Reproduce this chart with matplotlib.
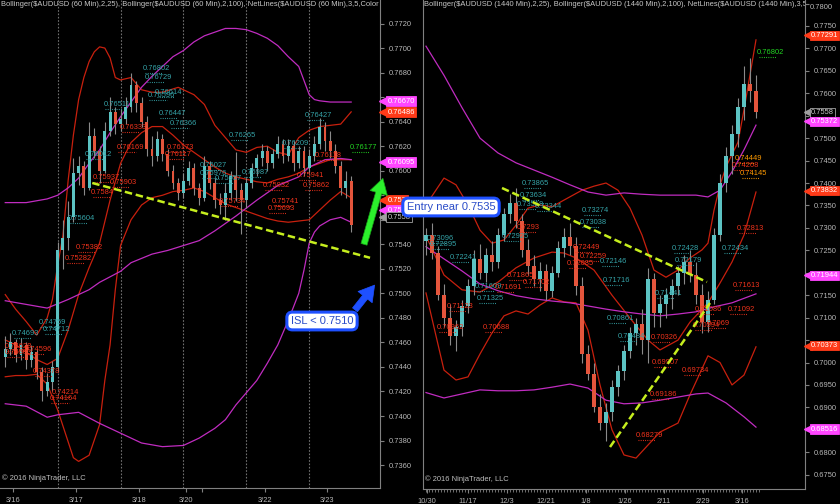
import numpy as np
import matplotlib
matplotlib.use("Agg")
import matplotlib.pyplot as plt
from matplotlib.transforms import offset_copy

plt.rcParams['font.family'] = ['Liberation Sans', 'DejaVu Sans']

# ---------------- AUDUSD 60 min (drawn as 2-hour candles) ----------------
l_open = [0.7448, 0.7455, 0.7460, 0.7450, 0.7458, 0.7446, 0.7452, 0.7436, 0.7420, 0.7428,
          0.7440, 0.7535, 0.7545, 0.7562, 0.7598, 0.7604, 0.7586, 0.7628, 0.7616, 0.7600,
          0.7632, 0.7648, 0.7638, 0.7642, 0.7652, 0.7670, 0.7655, 0.7640, 0.7618, 0.7612,
          0.7626, 0.7614, 0.7600, 0.7590, 0.7582, 0.7592, 0.7602, 0.7586, 0.7578, 0.7604,
          0.7590, 0.7576, 0.7572, 0.7582, 0.7596, 0.7584, 0.7576, 0.7590, 0.7602, 0.7610,
          0.7616, 0.7606, 0.7614, 0.7622, 0.7612, 0.7620, 0.7606, 0.7616, 0.7602, 0.7612,
          0.7622, 0.7636, 0.7624, 0.7616, 0.7604, 0.7586, 0.7592]
l_high = [0.7465, 0.7468, 0.7463, 0.7464, 0.7460, 0.7458, 0.7455, 0.7440, 0.7435, 0.7445,
          0.7542, 0.7560, 0.7575, 0.7610, 0.7612, 0.7608, 0.7640, 0.7635, 0.7620, 0.7640,
          0.7660, 0.7652, 0.7650, 0.7660, 0.7680, 0.7673, 0.7660, 0.7645, 0.7628, 0.7632,
          0.7630, 0.7618, 0.7605, 0.7594, 0.7598, 0.7608, 0.7606, 0.7590, 0.7612, 0.7608,
          0.7594, 0.7582, 0.7590, 0.7600, 0.7615, 0.7590, 0.7594, 0.7606, 0.7614, 0.7622,
          0.7620, 0.7618, 0.7628, 0.7626, 0.7626, 0.7624, 0.7620, 0.7620, 0.7618, 0.7628,
          0.7643, 0.7640, 0.7632, 0.7622, 0.7608, 0.7600, 0.7596]
l_low = [0.7440, 0.7450, 0.7444, 0.7446, 0.7438, 0.7440, 0.7430, 0.7412, 0.7416, 0.7420,
         0.7436, 0.7520, 0.7535, 0.7558, 0.7588, 0.7580, 0.7584, 0.7610, 0.7590, 0.7598,
         0.7628, 0.7630, 0.7632, 0.7638, 0.7648, 0.7648, 0.7636, 0.7612, 0.7604, 0.7608,
         0.7608, 0.7596, 0.7585, 0.7576, 0.7578, 0.7588, 0.7580, 0.7572, 0.7575, 0.7585,
         0.7570, 0.7565, 0.7560, 0.7576, 0.7575, 0.7548, 0.7570, 0.7586, 0.7596, 0.7604,
         0.7600, 0.7602, 0.7610, 0.7606, 0.7608, 0.7600, 0.7602, 0.7596, 0.7598, 0.7608,
         0.7618, 0.7616, 0.7610, 0.7598, 0.7580, 0.7578, 0.7550]
l_close = [0.7455, 0.7460, 0.7450, 0.7458, 0.7446, 0.7452, 0.7436, 0.7420, 0.7428, 0.7440,
           0.7535, 0.7545, 0.7562, 0.7598, 0.7604, 0.7586, 0.7628, 0.7616, 0.7600, 0.7632,
           0.7648, 0.7638, 0.7642, 0.7652, 0.7670, 0.7655, 0.7640, 0.7618, 0.7612, 0.7626,
           0.7614, 0.7600, 0.7590, 0.7582, 0.7592, 0.7602, 0.7586, 0.7578, 0.7604, 0.7590,
           0.7576, 0.7572, 0.7582, 0.7596, 0.7584, 0.7576, 0.7590, 0.7602, 0.7610, 0.7616,
           0.7606, 0.7614, 0.7622, 0.7612, 0.7620, 0.7606, 0.7616, 0.7602, 0.7612, 0.7622,
           0.7636, 0.7624, 0.7616, 0.7604, 0.7586, 0.7592, 0.7556]

# Bollinger(25) red lines, sampled at bar positions
l_bb25_up_x = [0, 2, 4, 6, 8, 9, 10, 11, 12, 13, 14, 15, 16, 17, 18, 19, 20, 21, 22, 24, 26, 28, 30,
               33, 36, 38, 40, 42, 44, 46, 48, 50, 52, 54, 56, 58, 60, 62, 64, 66]
l_bb25_up = [0.7499, 0.7487, 0.7477, 0.7466, 0.7480, 0.7495, 0.7523, 0.7547, 0.7592, 0.7629,
             0.7658, 0.7676, 0.7689, 0.7697, 0.7701, 0.7700, 0.7692, 0.7676, 0.7674, 0.7676,
             0.7666, 0.7664, 0.7664, 0.7668, 0.7662, 0.7654, 0.7637, 0.7627, 0.7617, 0.7615,
             0.7619, 0.7620, 0.7615, 0.7613, 0.7627, 0.7633, 0.7636, 0.7637, 0.7638, 0.7648]
l_bb25_mid_x = list(range(0, 67, 2))
l_bb25_mid = [0.7462, 0.7458, 0.7452, 0.7446, 0.7442, 0.7447, 0.7470, 0.7499, 0.7521, 0.7541,
              0.7576, 0.7606, 0.7623, 0.7631, 0.7636, 0.7636, 0.7629, 0.7621, 0.7615, 0.7609,
              0.7603, 0.7598, 0.7595, 0.7593, 0.7591, 0.7590, 0.7593, 0.7595, 0.7598, 0.7603,
              0.7606, 0.7609, 0.7609, 0.7609]
l_bb25_lo_x = [0, 2, 4, 6, 8, 10, 12, 13, 14, 16, 18, 19, 20, 21, 22, 24, 26, 28, 30, 32, 34, 36,
               38, 40, 42, 44, 46, 48, 50, 52, 54, 56, 58, 60, 62, 64, 66]
l_bb25_lo = [0.7432, 0.7433, 0.7433, 0.7434, 0.7426, 0.7405, 0.7379, 0.7366, 0.7363, 0.7368,
             0.7393, 0.7429, 0.7458, 0.7503, 0.7539, 0.7560, 0.7572, 0.7578, 0.7580, 0.7583,
             0.7584, 0.7586, 0.7583, 0.7578, 0.7573, 0.7570, 0.7567, 0.7564, 0.7561, 0.7559,
             0.7558, 0.7559, 0.7560, 0.7568, 0.7576, 0.7583, 0.7578]
# Bollinger(100) magenta lines
l_bb100_up_x = [0, 4, 8, 10, 12, 14, 16, 18, 20, 22, 24, 26, 28, 30, 32, 34, 36, 38, 40, 42, 44,
                46, 48, 50, 52, 54, 56, 58, 59, 60, 62, 64, 66]
l_bb100_up = [0.7574, 0.7574, 0.7577, 0.7580, 0.7586, 0.7594, 0.7606, 0.7617, 0.7631, 0.7644,
              0.7656, 0.7668, 0.7677, 0.7685, 0.7693, 0.7698, 0.7705, 0.7710, 0.7713, 0.7716,
              0.7716, 0.7715, 0.7712, 0.7708, 0.7702, 0.7693, 0.7685, 0.7662, 0.7658, 0.7657,
              0.7656, 0.7656, 0.7656]
l_bb100_mid_x = [0, 4, 8, 12, 16, 18, 22, 24, 28, 31, 34, 37, 40, 44, 48, 52, 56, 58, 61, 64, 66]
l_bb100_mid = [0.7494, 0.7491, 0.7488, 0.7495, 0.7503, 0.7509, 0.7518, 0.7525, 0.7532, 0.7535,
               0.7539, 0.7543, 0.7551, 0.7563, 0.7576, 0.7588, 0.7595, 0.7603, 0.7609, 0.7610,
               0.7609]
l_bb100_lo_x = [0, 4, 8, 10, 14, 18, 22, 26, 30, 34, 37, 40, 42, 44, 46, 48, 50, 52, 54, 56, 57,
                58, 59, 60, 62, 64, 66]
l_bb100_lo = [0.7410, 0.7408, 0.7399, 0.7401, 0.7403, 0.7394, 0.7386, 0.7378, 0.7375, 0.7376,
              0.7382, 0.7390, 0.7397, 0.7409, 0.7419, 0.7429, 0.7443, 0.7458, 0.7478, 0.7500,
              0.7519, 0.7541, 0.7550, 0.7555, 0.7560, 0.7562, 0.7558]

l_trend_x = [16.6, 69.6]
l_trend_y = [0.7590, 0.7529]
l_sessions = [10, 22, 34, 46, 58]
l_tick_pos = [1.5, 13.5, 25.5, 34.5, 37.5, 49.6, 61.4]
l_tick_lbl = ['3/16', '3/17', '3/18', '3/20', '', '3/22', '3/23']

l_lbl_x = [26.3, 26.7, 28.6, 27.2, 18.7, 29.2, 31.4, 21.9, 21.3, 30.9, 30.5, 15.2, 16.7, 20.0,
           16.4, 12.0, 13.5, 11.4, 6.3, 7.2, 1.3, 0.0, 0.0, 3.8, 5.3, 8.9, 8.5, 42.7, 57.2,
           52.8, 37.2, 37.2, 40.0, 45.2, 55.7, 56.8, 49.2, 40.8, 50.9, 50.0, 59.1, 65.8]
l_lbl_y = [0.76836, 0.76763, 0.76641, 0.76617, 0.76536, 0.76470, 0.76388, 0.76356, 0.76193,
           0.76193, 0.76136, 0.76136, 0.75948, 0.75908, 0.75826, 0.75614, 0.75378, 0.75281,
           0.74759, 0.74702, 0.74670, 0.74564, 0.74515, 0.74539, 0.74360, 0.74189, 0.74140,
           0.76290, 0.76453, 0.76225, 0.76046, 0.75981, 0.75940, 0.75989, 0.75957, 0.75883,
           0.75883, 0.75745, 0.75753, 0.75696, 0.76128, 0.76193]
l_lbl_txt = ['0.76802', '0.76729', '0.76614', '0.76596', '0.76511', '0.76447', '0.76366',
             '0.76333', '0.76169', '0.76173', '0.76117', '0.76012', '0.75937', '0.75903',
             '0.7584', '0.75604', '0.75382', '0.75282', '0.74759', '0.74712', '0.74693',
             '0.74628', '0.74583', '0.74596', '0.74378', '0.74214', '0.74164', '0.76265',
             '0.76427', '0.76209', '0.76027', '0.75976', '0.75957', '0.75987', '0.75941',
             '0.75862', '0.75832', '0.75734', '0.75741', '0.75693', '0.76118', '0.76177']
l_lbl_kind = ['t', 't', 't', 't', 't', 't', 't', 'r', 'r', 'r', 'r', 't', 'r', 'r', 'r', 't',
              'r', 'r', 't', 't', 't', 'r', 'r', 'r', 'r', 'r', 'r', 't', 't', 't', 't', 't',
              't', 't', 'r', 'r', 'r', 'r', 'r', 'r', 'r', 'g']

l_tag_txt = ['0.76670', '0.76486', '0.76095', '0.757', '0.7558', '0.7558']
l_tag_y = [0.76568, 0.76478, 0.76071, 0.75761, 0.75679, 0.75622]
l_tag_kind = ['m', 'r', 'm', 'r', 'm', 'k']

# ---------------- AUDUSD daily (drawn as 2-day candles) ----------------
r_open = [0.7270, 0.7285, 0.7245, 0.7150, 0.7100, 0.7060, 0.7080, 0.7125, 0.7170, 0.7230,
          0.7200, 0.7240, 0.7225, 0.7285, 0.7330, 0.7355, 0.7315, 0.7250, 0.7215, 0.7185,
          0.7205, 0.7160, 0.7200, 0.7255, 0.7280, 0.7260, 0.7170, 0.7020, 0.6975, 0.6900,
          0.6865, 0.6890, 0.6945, 0.6980, 0.7025, 0.7065, 0.7085, 0.7050, 0.7185, 0.7110,
          0.7130, 0.7150, 0.7170, 0.7200, 0.7225, 0.7195, 0.7150, 0.7090, 0.7140, 0.7285,
          0.7400, 0.7460, 0.7510, 0.7570, 0.7620, 0.7605]
r_high = [0.7300, 0.7310, 0.7260, 0.7175, 0.7130, 0.7095, 0.7140, 0.7185, 0.7250, 0.7265,
          0.7255, 0.7270, 0.7300, 0.7345, 0.7375, 0.7390, 0.7330, 0.7275, 0.7240, 0.7225,
          0.7220, 0.7215, 0.7270, 0.7300, 0.7310, 0.7280, 0.7190, 0.7040, 0.7000, 0.6930,
          0.6910, 0.6960, 0.6995, 0.7040, 0.7080, 0.7100, 0.7120, 0.7210, 0.7200, 0.7150,
          0.7165, 0.7185, 0.7215, 0.7240, 0.7250, 0.7225, 0.7175, 0.7160, 0.7300, 0.7420,
          0.7480, 0.7530, 0.7590, 0.7660, 0.7678, 0.7640]
r_low = [0.7240, 0.7230, 0.7140, 0.7080, 0.7040, 0.7025, 0.7060, 0.7110, 0.7150, 0.7185,
         0.7180, 0.7205, 0.7210, 0.7270, 0.7310, 0.7300, 0.7235, 0.7195, 0.7170, 0.7160,
         0.7140, 0.7145, 0.7190, 0.7235, 0.7240, 0.7150, 0.7000, 0.6960, 0.6890, 0.6850,
         0.6825, 0.6870, 0.6925, 0.6960, 0.7010, 0.7040, 0.7020, 0.7000, 0.7080, 0.7080,
         0.7100, 0.7120, 0.7150, 0.7175, 0.7180, 0.7130, 0.7065, 0.7069, 0.7130, 0.7270,
         0.7380, 0.7420, 0.7480, 0.7540, 0.7580, 0.7545]
r_close = [0.7285, 0.7245, 0.7150, 0.7100, 0.7060, 0.7080, 0.7125, 0.7170, 0.7230, 0.7200,
           0.7240, 0.7225, 0.7285, 0.7330, 0.7355, 0.7315, 0.7250, 0.7215, 0.7185, 0.7205,
           0.7160, 0.7200, 0.7255, 0.7280, 0.7260, 0.7170, 0.7020, 0.6975, 0.6900, 0.6865,
           0.6890, 0.6945, 0.6980, 0.7025, 0.7065, 0.7085, 0.7050, 0.7185, 0.7110, 0.7130,
           0.7150, 0.7170, 0.7200, 0.7225, 0.7195, 0.7150, 0.7090, 0.7140, 0.7285, 0.7400,
           0.7460, 0.7510, 0.7570, 0.7620, 0.7605, 0.7558]

r_bb25_up_x = [0, 3, 5, 7, 9, 11, 13, 15, 17, 19, 21, 23, 26, 28, 30, 32, 34, 36, 38, 40, 42, 44,
               46, 47, 48, 49, 50, 52, 53, 54, 55]
r_bb25_up = [0.7351, 0.7411, 0.7396, 0.7351, 0.7295, 0.7266, 0.7273, 0.7306, 0.7344, 0.7351,
             0.7347, 0.7362, 0.7384, 0.7393, 0.7400, 0.7384, 0.7344, 0.7284, 0.7206, 0.7190,
             0.7206, 0.7233, 0.7251, 0.7266, 0.7339, 0.7395, 0.7436, 0.7491, 0.7563, 0.7641,
             0.7719]
r_bb25_mid_x = [0, 3, 6, 9, 12, 15, 18, 21, 23, 25, 28, 31, 34, 37, 39, 42, 44, 47, 49, 51, 53, 55]
r_bb25_mid = [0.7282, 0.7195, 0.7162, 0.7157, 0.7179, 0.7211, 0.7233, 0.7246, 0.7244, 0.7233,
              0.7206, 0.7150, 0.7099, 0.7050, 0.7028, 0.7050, 0.7090, 0.7133, 0.7177, 0.7224,
              0.7284, 0.7380]
r_bb25_lo_x = [0, 3, 5, 7, 9, 11, 13, 15, 17, 19, 21, 23, 25, 27, 29, 31, 33, 35, 37, 39, 42, 44,
               47, 49, 51, 53, 55]
r_bb25_lo = [0.7155, 0.6983, 0.6961, 0.6968, 0.7019, 0.7066, 0.7104, 0.7115, 0.7108, 0.7128,
             0.7144, 0.7135, 0.7133, 0.7072, 0.6950, 0.6850, 0.6794, 0.6787, 0.6816, 0.6845,
             0.6865, 0.6928, 0.7015, 0.7000, 0.6950, 0.6972, 0.7035]
r_bb100_up_x = [0, 3, 6, 9, 12, 15, 18, 21, 24, 27, 30, 33, 36, 39, 42, 45, 47, 49, 51, 53, 55]
r_bb100_up = [0.7705, 0.7640, 0.7568, 0.7500, 0.7467, 0.7445, 0.7429, 0.7413, 0.7396, 0.7380,
              0.7373, 0.7378, 0.7375, 0.7373, 0.7373, 0.7373, 0.7369, 0.7384, 0.7425, 0.7474,
              0.7529]
r_bb100_mid_x = [0, 3, 6, 9, 12, 15, 18, 21, 24, 27, 30, 33, 36, 39, 42, 45, 48, 51, 55]
r_bb100_mid = [0.7258, 0.7231, 0.7204, 0.7175, 0.7160, 0.7149, 0.7142, 0.7137, 0.7133, 0.7126,
               0.7119, 0.7113, 0.7108, 0.7104, 0.7108, 0.7113, 0.7124, 0.7133, 0.7153]
r_bb100_lo_x = [0, 3, 6, 9, 12, 15, 18, 21, 24, 27, 30, 33, 36, 39, 42, 45, 47, 50, 53, 55]
r_bb100_lo = [0.6933, 0.6921, 0.6930, 0.6939, 0.6937, 0.6937, 0.6939, 0.6945, 0.6952, 0.6943,
              0.6916, 0.6908, 0.6910, 0.6916, 0.6923, 0.6930, 0.6932, 0.6910, 0.6879, 0.6856]

r_trend1_x = [12.67, 46.83]
r_trend1_y = [0.73889, 0.71794]
r_trend2_x = [30.67, 47.33]
r_trend2_y = [0.68117, 0.71326]
r_tick_pos = [0.17, 7.0, 13.5, 20.0, 26.7, 33.2, 39.7, 46.2, 52.7]
r_tick_lbl = ['10/30', '11/17', '12/3', '12/21', '1/8', '1/26', '2/11', '2/29', '3/16']

r_lbl_x = [16.0, 15.7, 15.2, 18.2, 15.2, 12.7, 0.2, 0.7, 4.0, 8.2, 11.5, 8.5, 3.5, 1.8, 9.5,
           13.5, 16.2, 26.0, 25.7, 24.5, 25.7, 23.5, 29.0, 29.5, 30.2, 41.0, 41.5, 49.3, 38.2,
           51.8, 51.2, 50.3, 44.8, 46.8, 44.5, 32.0, 37.5, 37.7, 42.7, 37.3, 35.0, 51.5, 51.0,
           52.3, 55.2]
r_lbl_y = [0.7398, 0.7373, 0.7353, 0.7347, 0.7302, 0.7281, 0.7276, 0.7264, 0.7235, 0.7170,
           0.7168, 0.7142, 0.7124, 0.7079, 0.7079, 0.7195, 0.7178, 0.7338, 0.7313, 0.7257,
           0.7237, 0.7220, 0.7224, 0.7182, 0.7097, 0.7253, 0.7228, 0.7253, 0.7153, 0.7299,
           0.7171, 0.7119, 0.7118, 0.7087, 0.7083, 0.7059, 0.7055, 0.7001, 0.6983, 0.6928,
           0.6838, 0.7454, 0.7438, 0.7422, 0.7692]
r_lbl_txt = ['0.73865', '0.73634', '0.73518', '0.73344', '0.7293', '0.72925', '0.73096',
             '0.72895', '0.72241', '0.71609', '0.71691', '0.71325', '0.71123', '0.70962',
             '0.70688', '0.71865', '0.71702', '0.73274', '0.73038', '0.72449', '0.72259',
             '0.72085', '0.72146', '0.71716', '0.70861', '0.72428', '0.72179', '0.72434',
             '0.71441', '0.72813', '0.71613', '0.71092', '0.71086', '0.7069', '0.70594',
             '0.70484', '0.70326', '0.69907', '0.69734', '0.69186', '0.68279', '0.74449',
             '0.74268', '0.74145', '0.76802']
r_lbl_kind = ['t', 't', 't', 't', 'r', 't', 't', 't', 't', 't', 'r', 't', 'r', 'r', 'r', 'r',
              'r', 't', 't', 'r', 'r', 'r', 't', 't', 't', 't', 't', 't', 't', 'r', 'r', 'r',
              'r', 'r', 'r', 't', 'r', 'r', 'r', 'r', 'r', 'o', 'r', 'o', 'g']

r_tag_txt = ['0.77291', '0.7558', '0.75372', '0.73832', '0.71944', '0.70373', '0.68516']
r_tag_y = [0.77291, 0.7558, 0.75372, 0.73832, 0.71944, 0.70373, 0.68516]
r_tag_kind = ['r', 'k', 'm', 'r', 'm', 'r', 'm']

# ---------------- styling ----------------
BG = 'black'
AXC = '#808080'
TXT = '#b8b8b8'
UP = '#5cc3c3'
DN = '#e4553c'
RED = '#c8200e'
MAG = '#c02cc0'
TREND = '#c6ee1e'
LBL_COL = {'t': '#35a3a8', 'r': '#f0331c', 'g': '#22d622', 'o': '#ff9a00'}
TAG_COL = {'m': ('#ff45ff', 'white', '#ff45ff'), 'r': ('#ff3a18', 'white', '#ff3a18'),
           'k': ('black', '#c8c8c8', '#a0a0a0')}
FS = 5.4

fig = plt.figure(figsize=(8.4, 5.04), dpi=100, facecolor=BG)
ax_l = fig.add_axes([0.0, 16 / 504, 380 / 840, 488 / 504])
ax_r = fig.add_axes([423 / 840, 15 / 504, 382 / 840, 489 / 504])


def candles(ax, o, h, l, c, w):
    x = np.arange(len(o))
    o, h, l, c = map(np.asarray, (o, h, l, c))
    up = c >= o
    ax.vlines(x, l, h, color='#8a8a8a', lw=0.8, zorder=3)
    ax.bar(x, np.maximum(np.abs(c - o), 0.00005), bottom=np.minimum(o, c), width=w,
           color=np.where(up, UP, DN), linewidth=0, zorder=4)


def labels(ax, xs, ys, txts, kinds, uw):
    under = offset_copy(ax.transData, fig=fig, x=0, y=-4.5, units='dots')
    for x, y, t, k in zip(xs, ys, txts, kinds):
        col = LBL_COL[k]
        ax.text(x, y, t, fontsize=FS, color=col, ha='left', va='center', zorder=6, clip_on=True)
        ax.plot([x + 0.3, x + uw], [y, y], transform=under, color=col, lw=0.8,
                linestyle=(0, (0.8, 1.2)), zorder=6)


def tags(ax, ys, txts, kinds, dx):
    tr = ax.get_yaxis_transform()
    for y, t, k in zip(ys, txts, kinds):
        fc, tc, ec = TAG_COL[k]
        ax.plot([1.008], [y], marker='<', ms=6, color=ec, mec=ec, transform=tr,
                clip_on=False, zorder=9)
        ax.text(dx, y, t, transform=tr, ha='left', va='center', fontsize=FS, color=tc,
                bbox=dict(boxstyle='square,pad=0.15', fc=fc, ec=ec, lw=0.6),
                clip_on=False, zorder=10)


def style(ax, ticks, tag_y, gap):
    ax.set_facecolor(BG)
    for s in ['top', 'left']:
        ax.spines[s].set_visible(False)
    for s in ['right', 'bottom']:
        ax.spines[s].set_color(AXC)
    ax.yaxis.tick_right()
    ax.set_yticks(ticks)
    # price tags sit over the scale, so the tick labels they cover are not shown
    ax.set_yticklabels(['' if min(abs(t - g) for g in tag_y) < gap else '%.4f' % t
                        for t in ticks])
    ax.tick_params(axis='both', colors=AXC, labelcolor=TXT, labelsize=FS, length=3, width=0.8)


# ---- left panel ----
candles(ax_l, l_open, l_high, l_low, l_close, 0.55)
ax_l.plot(l_bb25_up_x, l_bb25_up, color=RED, lw=0.9, zorder=2)
ax_l.plot(l_bb25_mid_x, l_bb25_mid, color=RED, lw=0.9, zorder=2)
ax_l.plot(l_bb25_lo_x, l_bb25_lo, color=RED, lw=0.9, zorder=2)
ax_l.plot(l_bb100_up_x, l_bb100_up, color=MAG, lw=0.9, zorder=2)
ax_l.plot(l_bb100_mid_x, l_bb100_mid, color=MAG, lw=0.9, zorder=2)
ax_l.plot(l_bb100_lo_x, l_bb100_lo, color=MAG, lw=0.9, zorder=2)
for s in l_sessions:
    ax_l.axvline(s, color='#707070', lw=0.8, linestyle=(0, (1.5, 1.5)), zorder=1)
ax_l.plot(l_trend_x, l_trend_y, color=TREND, lw=1.8, linestyle=(0, (3, 1.5)), zorder=7)
labels(ax_l, l_lbl_x, l_lbl_y, l_lbl_txt, l_lbl_kind, 3.6)
ax_l.set_xlim(-1, 71.5)
ax_l.set_ylim(0.73413, 0.77392)
style(ax_l, np.round(np.arange(0.7360, 0.77201, 0.002), 4), l_tag_y, 0.0006)
ax_l.set_xticks(l_tick_pos)
ax_l.set_xticklabels(l_tick_lbl)
tags(ax_l, l_tag_y, l_tag_txt, l_tag_kind, 1.02)
ax_l.text(0.002, 0.997, 'Bollinger($AUDUSD (60 Min),2,25), Bollinger($AUDUSD (60 Min),2,100), '
          'NetLines($AUDUSD (60 Min),3,5,Color [Lime]', transform=ax_l.transAxes, fontsize=FS,
          color='#c8c8c8', ha='left', va='top', clip_on=True)
ax_l.text(0.004, 0.012, '\u00a9 2016 NinjaTrader, LLC', transform=ax_l.transAxes, fontsize=FS,
          color='#c0c0c0', ha='left', va='bottom')

# arrows (left chart coordinates)
ax_l.annotate('', xy=(72.2, 0.75960), xytext=(68.3, 0.75378), annotation_clip=False,
              arrowprops=dict(arrowstyle='simple,head_width=1.3,head_length=1.1,tail_width=0.45',
                              fc='#2cf02c', ec='#18a018', lw=0.5), zorder=12)
ax_l.annotate('', xy=(70.8, 0.75085), xytext=(66.4, 0.74848), annotation_clip=False,
              arrowprops=dict(arrowstyle='simple,head_width=1.3,head_length=1.1,tail_width=0.45',
                              fc='#1e50ff', ec='#1e50ff', lw=0.5), zorder=12)

# ---- right panel ----
candles(ax_r, r_open, r_high, r_low, r_close, 0.55)
ax_r.plot(r_bb25_up_x, r_bb25_up, color=RED, lw=0.9, zorder=2)
ax_r.plot(r_bb25_mid_x, r_bb25_mid, color=RED, lw=0.9, zorder=2)
ax_r.plot(r_bb25_lo_x, r_bb25_lo, color=RED, lw=0.9, zorder=2)
ax_r.plot(r_bb100_up_x, r_bb100_up, color=MAG, lw=0.9, zorder=2)
ax_r.plot(r_bb100_mid_x, r_bb100_mid, color=MAG, lw=0.9, zorder=2)
ax_r.plot(r_bb100_lo_x, r_bb100_lo, color=MAG, lw=0.9, zorder=2)
ax_r.plot(r_trend1_x, r_trend1_y, color=TREND, lw=1.8, linestyle=(0, (3, 1.5)), zorder=7)
ax_r.plot(r_trend2_x, r_trend2_y, color=TREND, lw=1.8, linestyle=(0, (3, 1.5)), zorder=7)
labels(ax_r, r_lbl_x, r_lbl_y, r_lbl_txt, r_lbl_kind, 3.2)
ax_r.set_xlim(-0.5, 63.17)
ax_r.set_ylim(0.67181, 0.78079)
style(ax_r, np.round(np.arange(0.6750, 0.78001, 0.005), 4), r_tag_y + [0.7800], 0.0016)
ax_r.spines['left'].set_visible(True)
ax_r.spines['left'].set_color(AXC)
ax_r.set_xticks(r_tick_pos)
ax_r.set_xticklabels(r_tick_lbl)
ax_r.set_xticks(np.arange(0, 56, 0.5), minor=True)
ax_r.tick_params(axis='x', which='minor', colors=AXC, length=2, width=0.6)
tags(ax_r, r_tag_y, r_tag_txt, r_tag_kind, 1.015)
ax_r.text(0.003, 0.997, 'Bollinger($AUDUSD (1440 Min),2,25), Bollinger($AUDUSD (1440 Min),2,100), '
          'NetLines($AUDUSD (1440 Min),3,5,Color [Lime]', transform=ax_r.transAxes, fontsize=FS,
          color='#c8c8c8', ha='left', va='top', clip_on=True)
ax_r.text(0.004, 0.012, '\u00a9 2016 NinjaTrader, LLC', transform=ax_r.transAxes, fontsize=FS,
          color='#c0c0c0', ha='left', va='bottom')
# top scale value drawn separately so it sits just under the frame top
ax_r.text(1.012, 0.7800, '0.7800', transform=ax_r.get_yaxis_transform(), fontsize=FS,
          color=TXT, ha='left', va='top', clip_on=False)

# ---- call-out boxes ----
box = dict(boxstyle='round,pad=0.35,rounding_size=0.5', fc='white', ec='#1e50ff', lw=2.2)
fig.text(451 / 840, 1 - 207 / 504, 'Entry near 0.7535', fontsize=8, color='#2a4cc8',
         ha='center', va='center', bbox=box, zorder=20)
fig.text(322 / 840, 1 - 321 / 504, 'ISL < 0.7510', fontsize=8, color='#2a4cc8',
         ha='center', va='center', bbox=box, zorder=20)

fig.savefig('out.png', dpi=100, facecolor=BG)
